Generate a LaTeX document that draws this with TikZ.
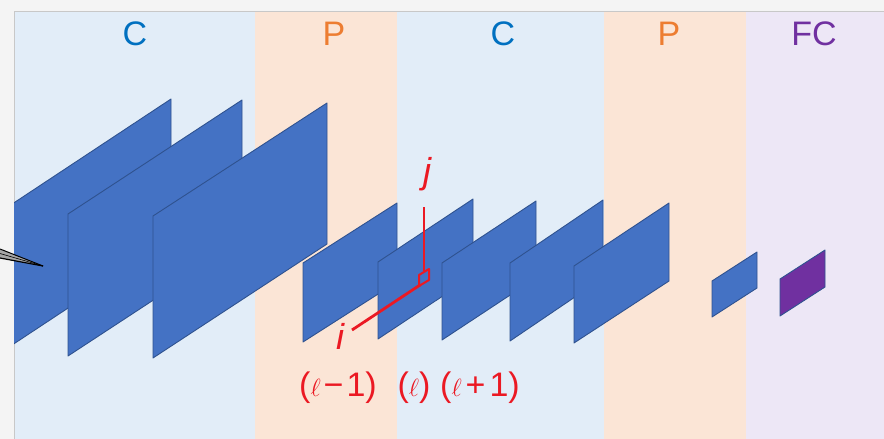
\documentclass[tikz,border=0pt]{standalone}
\usepackage{fontspec}
\setmainfont{Liberation Sans}
\definecolor{outer}{RGB}{244,244,244}
\definecolor{frameline}{RGB}{200,200,200}
\definecolor{bandC}{RGB}{226,237,248}
\definecolor{bandP}{RGB}{251,229,214}
\definecolor{bandFC}{RGB}{237,231,246}
\definecolor{labC}{RGB}{0,112,192}
\definecolor{labP}{RGB}{237,125,49}
\definecolor{labFC}{RGB}{112,48,160}
\definecolor{planefill}{RGB}{68,114,196}
\definecolor{planeedge}{RGB}{47,82,143}
\definecolor{purplefill}{RGB}{112,48,160}
\definecolor{annot}{RGB}{235,25,35}
\tikzset{
  bandlabel/.style={font=\fontsize{34}{40}\selectfont, inner sep=0pt, anchor=center},
  plane/.style={fill=planefill, draw=planeedge, line width=0.9pt, line join=round},
  fcplane/.style={fill=purplefill, draw=planeedge, line width=0.9pt, line join=round},
  axisline/.style={draw=annot, line width=2.8pt},
  axislabel/.style={text=annot, font=\fontsize{36}{42}\selectfont\itshape, inner sep=0pt, anchor=center},
  layerlabel/.style={text=annot, font=\fontsize{34}{40}\selectfont, inner sep=0pt, anchor=center}
}
\begin{document}
\begin{tikzpicture}[x=1pt,y=-1pt]
\useasboundingbox (0,0) rectangle (884,439);
% outer background and panel
\fill[outer] (0,0) rectangle (884,439);
\fill[bandC] (14,11) rectangle (255,439);
\fill[bandP] (255,11) rectangle (397,439);
\fill[bandC] (397,11) rectangle (604,439);
\fill[bandP] (604,11) rectangle (746,439);
\fill[bandFC] (746,11) rectangle (884,439);
\draw[frameline, line width=0.8pt] (14,439) -- (14,11) -- (884,11);
% band labels
\node[bandlabel, text=labC] (c1) at (135,34) {C};
\node[bandlabel, text=labP] (p1) at (334,34) {P};
\node[bandlabel, text=labC] (c2) at (503,34) {C};
\node[bandlabel, text=labP] (p2) at (669,34) {P};
\node[bandlabel, text=labFC] (fc) at (814,34) {FC};
% planes
\begin{scope}
\clip (14,11) rectangle (884,439);
\path[plane] (-3,214) -- (171,99) -- (171,240) -- (-3,355) -- cycle;
\path[plane] (68,214) -- (242,100) -- (242,242) -- (68,356) -- cycle;
\path[plane] (153,216) -- (327,103) -- (327,244) -- (153,358) -- cycle;
\path[plane] (303,263) -- (397,203) -- (397,282) -- (303,342) -- cycle;
\path[plane] (378,262) -- (473,199) -- (473,276) -- (378,339) -- cycle;
\path[plane] (442,263) -- (536,201) -- (536,278) -- (442,340) -- cycle;
\path[plane] (510,263) -- (603,200) -- (603,278) -- (510,341) -- cycle;
\path[plane] (574,266) -- (669,203) -- (669,281) -- (574,343) -- cycle;
\path[plane] (712,281) -- (757,252) -- (757,288) -- (712,317) -- cycle;
\path[fcplane] (780,279) -- (825,250) -- (825,287) -- (780,316) -- cycle;
\end{scope}
% pointer from the left
\coordinate (ptip) at (43,266);
\coordinate (pa) at (0,249);
\coordinate (pb) at (0,258);
\fill[gray!70] (pa) -- (ptip) -- (pb) -- cycle;
\draw[black, line width=1pt] (pa) -- (ptip);
\draw[black, line width=1.2pt] (pb) -- (ptip);
\draw[black, line width=0.6pt] (0,253.5) -- (ptip);
% axes on layer l
\coordinate (jtop) at (424,207);
\coordinate (jbot) at (424,271);
\coordinate (orig) at (420,285);
\coordinate (iend) at (352,330);
\draw[axisline] (jtop) -- (jbot);
\draw[axisline] (orig) -- (iend);
\draw[annot, line width=2pt, line join=round] (419,286) -- (419,275) -- (429,269) -- (429,280) -- cycle;
\node[axislabel] (jlab) at (427,174) {j};
\node[axislabel] (ilab) at (340,336) {i};
% layer labels
\node[layerlabel] (lm1) at (338,388) {(\ensuremath{\ell}\kern3pt−\kern3pt1)};
\node[layerlabel] (l0) at (414,388) {(\ensuremath{\ell})};
\node[layerlabel] (lp1) at (480,388) {(\ensuremath{\ell}\kern4pt+\kern4pt1)};
\end{tikzpicture}
\end{document}
